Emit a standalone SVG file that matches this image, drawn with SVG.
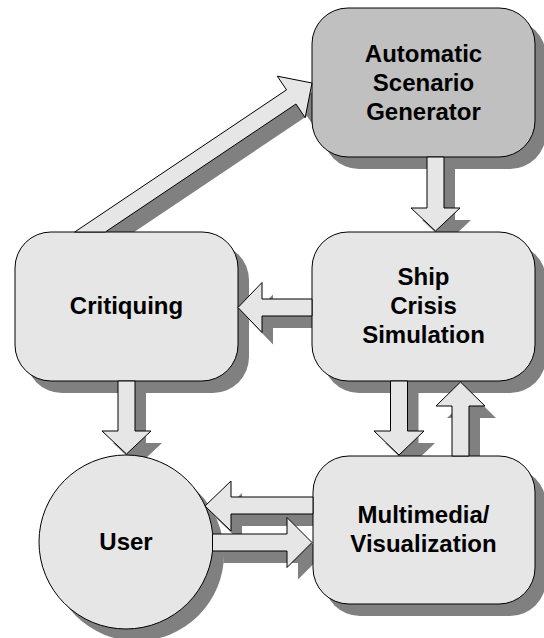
<svg xmlns="http://www.w3.org/2000/svg" xmlns:xlink="http://www.w3.org/1999/xlink" width="544" height="638" viewBox="0 0 544 638">
<style>
.box{fill:#e6e6e6;stroke:#000;stroke-width:1}
.dark{fill:#c0c0c0}
.sh{fill:#808080;stroke:none}
.arrow{fill:#e6e6e6;stroke:#000;stroke-width:1;stroke-linejoin:miter}
.lbl{font-family:"Liberation Sans",Arial,sans-serif;font-weight:bold;font-size:24px;text-anchor:middle;fill:#000}
</style>
<rect width="544" height="638" fill="#fff"/>
<g id="shadows" class="sh" transform="translate(11,12)">
  <rect x="312" y="8" width="223" height="149" rx="36" ry="36"/>
  <rect x="312" y="232" width="223" height="149" rx="36" ry="36"/>
  <rect x="15" y="232" width="223" height="149" rx="36" ry="36"/>
  <rect x="313" y="456" width="222" height="148" rx="36" ry="36"/>
  <circle cx="126" cy="542" r="87"/>
  <polygon points="74.7,232 286.5,89.87 277.31,76.17 312,83 305.17,117.69 295.98,104 105.3,232"/>
  <polygon points="427,157 444,157 444,208 460,208 435.5,231 411,208 427,208"/>
  <polygon points="312,299 262,299 262,282.5 238,307.5 262,332.5 262,316 312,316"/>
  <polygon points="118,381 135,381 135,431 151,431 126.5,454 102,431 118,431"/>
  <polygon points="390.5,381 407.5,381 407.5,431 424,431 399,455 374,431 390.5,431"/>
  <polygon points="452,456 452,406 436,406 460.5,382 485,406 469,406 469,456"/>
  <polygon points="313,497 231,497 231,481 205,506 231,531 231,514 313,514"/>
  <polygon points="212.5,534 287,534 287,517.5 312,542.5 287,567.5 287,551 212.5,551"/>
</g>
<g id="asg">
  <rect class="box dark" x="312" y="8" width="223" height="149" rx="36" ry="36"/>
  <text class="lbl" x="423.5" y="62">Automatic</text>
  <text class="lbl" x="423.5" y="91">Scenario</text>
  <text class="lbl" x="423.5" y="120">Generator</text>
</g>
<g id="ship">
  <rect class="box" x="312" y="232" width="223" height="149" rx="36" ry="36"/>
  <text class="lbl" x="423.5" y="285">Ship</text>
  <text class="lbl" x="423.5" y="314">Crisis</text>
  <text class="lbl" x="423.5" y="343">Simulation</text>
</g>
<g id="critiquing">
  <rect class="box" x="15" y="232" width="223" height="149" rx="36" ry="36"/>
  <text class="lbl" x="126.5" y="314">Critiquing</text>
</g>
<g id="user">
  <circle class="box" cx="126" cy="542" r="87"/>
  <text class="lbl" x="126" y="550">User</text>
</g>
<g id="multimedia">
  <rect class="box" x="313" y="456" width="222" height="148" rx="36" ry="36"/>
  <text class="lbl" x="423.5" y="523">Multimedia/</text>
  <text class="lbl" x="423.5" y="552">Visualization</text>
</g>
<g id="connectors" class="arrow">
  <polygon points="74.7,232 286.5,89.87 277.31,76.17 312,83 305.17,117.69 295.98,104 105.3,232"/>
  <polygon points="427,157 444,157 444,208 460,208 435.5,231 411,208 427,208"/>
  <polygon points="312,299 262,299 262,282.5 238,307.5 262,332.5 262,316 312,316"/>
  <polygon points="118,381 135,381 135,431 151,431 126.5,454 102,431 118,431"/>
  <polygon points="390.5,381 407.5,381 407.5,431 424,431 399,455 374,431 390.5,431"/>
  <polygon points="452,456 452,406 436,406 460.5,382 485,406 469,406 469,456"/>
  <polygon points="313,497 231,497 231,481 205,506 231,531 231,514 313,514"/>
  <polygon points="212.5,534 287,534 287,517.5 312,542.5 287,567.5 287,551 212.5,551"/>
</g>
</svg>
